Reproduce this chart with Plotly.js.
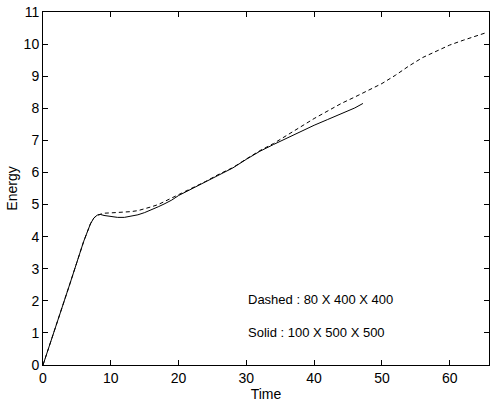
<!DOCTYPE html>
<html>
<head>
<meta charset="utf-8">
<script src="https://cdn.plot.ly/plotly-3.0.1.min.js"></script>
<style>html,body{margin:0;padding:0;background:#fff;}#chart{width:494px;height:403px;}</style>
</head>
<body>
<div id="chart"></div>
<script>
const dashedTime = [0,1,2,3,4,5,6,7,7.5,8,8.5,9,10,11,12,13,14,15,16,17,18,19,20,22,24,26,28,30,32,34,36,38,40,42,44,46,48,50,52,54,56,58,60,62,64,65.3];
const dashedEnergy = [0,0.62,1.25,1.9,2.55,3.2,3.85,4.4,4.58,4.67,4.71,4.73,4.74,4.75,4.76,4.78,4.81,4.86,4.93,5.0,5.1,5.2,5.32,5.52,5.72,5.95,6.15,6.42,6.68,6.9,7.15,7.42,7.68,7.92,8.15,8.35,8.56,8.77,9.03,9.32,9.58,9.78,9.97,10.12,10.25,10.35];
const solidTime = [0,1,2,3,4,5,6,7,7.5,8,8.5,9,10,11,12,13,14,15,16,17,18,19,20,22,24,26,28,30,32,34,36,38,40,42,44,46,47.2];
const solidEnergy = [0,0.62,1.25,1.9,2.55,3.2,3.85,4.4,4.58,4.67,4.69,4.66,4.62,4.6,4.6,4.63,4.68,4.75,4.83,4.93,5.03,5.14,5.28,5.5,5.71,5.94,6.14,6.41,6.66,6.87,7.07,7.28,7.47,7.65,7.82,8.01,8.15];
const xTicks = [0,10,20,30,40,50,60];
const yTicks = [0,1,2,3,4,5,6,7,8,9,10,11];
const notes = ["Dashed : 80 X 400 X 400", "Solid : 100 X 500 X 500"];
const noteY = [2.03, 1.0];

const traces = [
  {x: dashedTime, y: dashedEnergy, type: 'scatter', mode: 'lines', line: {color: '#000', width: 1, dash: '4px,3px'}, showlegend: false},
  {x: solidTime, y: solidEnergy, type: 'scatter', mode: 'lines', line: {color: '#000', width: 1}, showlegend: false}
];
const font = {family: 'Liberation Sans, Arial, sans-serif', size: 14, color: '#000'};
const layout = {
  width: 494, height: 403,
  margin: {l: 43, r: 5, t: 12, b: 38},
  paper_bgcolor: '#fff', plot_bgcolor: '#fff',
  font: font,
  xaxis: {range: [0, 65.8], tickvals: xTicks, ticks: 'inside', ticklen: 5, tickcolor: '#000',
    showline: true, linecolor: '#000', linewidth: 1, mirror: 'ticks', showgrid: false, zeroline: false,
    title: {text: 'Time', font: font, standoff: 0}, tickfont: font},
  yaxis: {range: [0, 11], tickvals: yTicks, ticks: 'inside', ticklen: 5, tickcolor: '#000',
    showline: true, linecolor: '#000', linewidth: 1, mirror: 'ticks', showgrid: false, zeroline: false,
    title: {text: 'Energy', font: font, standoff: 2}, tickfont: font},
  annotations: notes.map((t, i) => ({x: 29.9, y: noteY[i], xref: 'x', yref: 'y', text: t, showarrow: false,
    xanchor: 'left', yanchor: 'middle', font: {family: 'Liberation Sans, Arial, sans-serif', size: 13, color: '#000'}}))
};
Plotly.newPlot('chart', traces, layout, {displayModeBar: false, staticPlot: true});
</script>
</body>
</html>
